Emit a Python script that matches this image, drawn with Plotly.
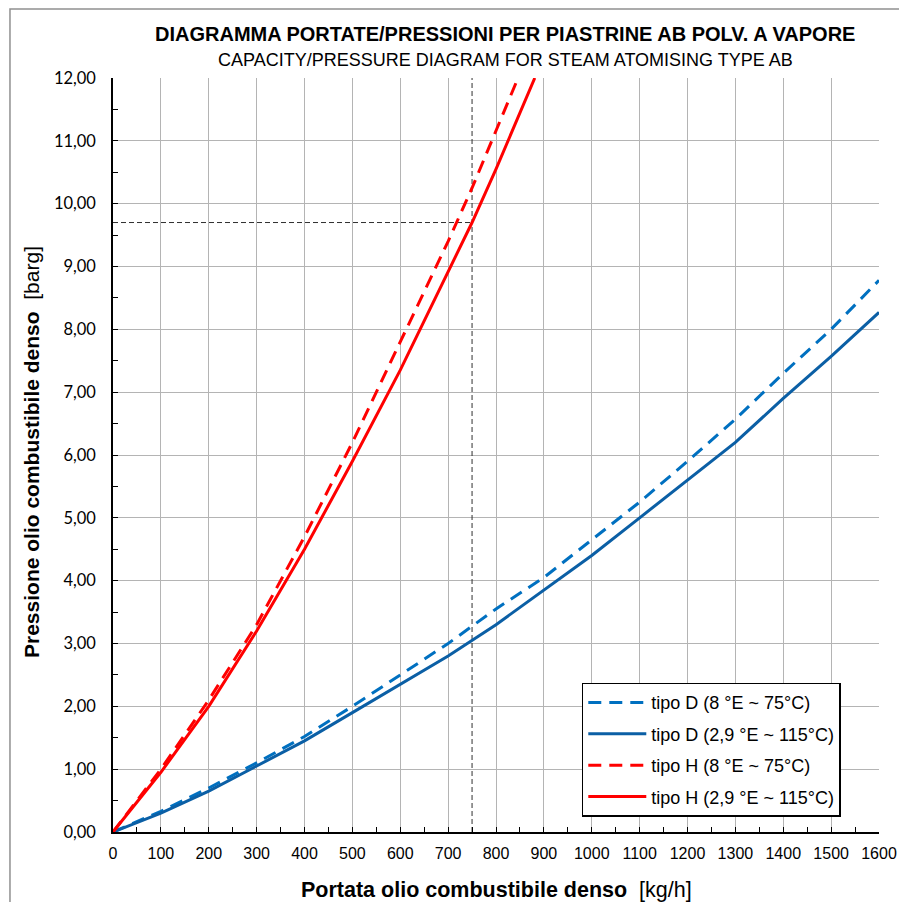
import plotly.graph_objects as go

# Portata [kg/h]
flow_D = [0, 100, 200, 300, 400, 500, 600, 700, 800, 900, 1000, 1100, 1200, 1300, 1400, 1500, 1600]
# Pressione [barg]
p_D_8E = [0, 0.33, 0.70, 1.10, 1.52, 2.00, 2.50, 3.00, 3.55, 4.05, 4.65, 5.25, 5.90, 6.57, 7.30, 8.00, 8.78]
p_D_29E = [0, 0.30, 0.65, 1.05, 1.45, 1.90, 2.35, 2.80, 3.30, 3.85, 4.40, 5.00, 5.60, 6.20, 6.90, 7.57, 8.27]

flow_H_8E = [0, 100, 200, 300, 400, 500, 600, 700, 750, 800, 846]
p_H_8E = [0, 1.00, 2.10, 3.30, 4.70, 6.20, 7.80, 9.40, 10.25, 11.15, 12.00]
flow_H_29E = [0, 100, 200, 300, 400, 500, 600, 700, 750, 800, 881]
p_H_29E = [0, 0.95, 2.00, 3.20, 4.50, 5.90, 7.35, 8.90, 9.70, 10.55, 12.00]

# reference reading
ref_flow = 750
ref_pressure = 9.70

x_ticks = list(range(0, 1601, 100))
y_ticks = list(range(0, 13, 1))

blue_dash = "#0070C0"
blue_solid = "#0B5FA5"
red = "#FF0000"
dash_style = "13px,8px"

fig = go.Figure()

# reference lines
fig.add_trace(go.Scatter(x=[ref_flow, ref_flow], y=[0, 12], mode="lines",
                         line=dict(color="#303030", width=1, dash="5px,3px"),
                         showlegend=False, hoverinfo="skip"))
fig.add_trace(go.Scatter(x=[0, ref_flow], y=[ref_pressure, ref_pressure], mode="lines",
                         line=dict(color="#303030", width=1, dash="5px,3px"),
                         showlegend=False, hoverinfo="skip"))

fig.add_trace(go.Scatter(x=flow_D, y=p_D_8E, mode="lines", name="tipo D (8 °E ~ 75°C)",
                         line=dict(color=blue_dash, width=3, dash=dash_style), legendgroup="a"))
fig.add_trace(go.Scatter(x=flow_D, y=p_D_29E, mode="lines", name="tipo D (2,9 °E ~ 115°C)",
                         line=dict(color=blue_solid, width=3), legendgroup="b"))
fig.add_trace(go.Scatter(x=flow_H_8E, y=p_H_8E, mode="lines", name="tipo H (8 °E ~ 75°C)",
                         line=dict(color=red, width=3, dash=dash_style), legendgroup="c"))
fig.add_trace(go.Scatter(x=flow_H_29E, y=p_H_29E, mode="lines", name="tipo H (2,9 °E ~ 115°C)",
                         line=dict(color=red, width=3), legendgroup="d"))

fig.update_layout(
    width=899, height=902,
    margin=dict(l=113, r=20, t=78, b=70, autoexpand=False),
    paper_bgcolor="white", plot_bgcolor="white",
    separators=",.",
    font=dict(family="Liberation Sans, Arial", color="black"),
    showlegend=True,
    legend=dict(x=0.612, y=0.198, xanchor="left", yanchor="top",
                bordercolor="black", borderwidth=1.5, bgcolor="white",
                font=dict(size=18, family="Liberation Sans, Arial"),
                itemwidth=58,
                tracegroupgap=5, traceorder="grouped"),
    xaxis=dict(range=[0, 1600], tickvals=x_ticks, ticktext=[str(v) for v in x_ticks],
               automargin=False,
               showgrid=True, gridcolor="#b4b4b4", gridwidth=1,
               showline=True, linecolor="black", linewidth=1.5,
               ticks="inside", ticklen=5, tickcolor="black",
               minor=dict(dtick=50, ticks="inside", ticklen=5, tickcolor="black", showgrid=False),
               tickfont=dict(size=16, family="Liberation Sans Narrow, Arial Narrow, Liberation Sans"),
               ticklabelstandoff=6,
               zeroline=False, fixedrange=True),
    yaxis=dict(range=[0, 12], tickvals=y_ticks, tickformat=".2f",
               automargin=False,
               showgrid=True, gridcolor="#b4b4b4", gridwidth=1,
               showline=True, linecolor="black", linewidth=1.5,
               ticks="inside", ticklen=5, tickcolor="black",
               minor=dict(dtick=0.5, ticks="inside", ticklen=5, tickcolor="black", showgrid=False),
               tickfont=dict(size=16.5, family="Lato, Noto Sans"),
               ticklabelstandoff=12,
               zeroline=False, fixedrange=True),
)

fig.add_annotation(text="<b>DIAGRAMMA PORTATE/PRESSIONI PER PIASTRINE AB POLV. A VAPORE</b>",
                   xref="paper", yref="paper", x=0.512, y=1.0, yshift=44,
                   xanchor="center", yanchor="middle", showarrow=False,
                   font=dict(size=20, family="Liberation Sans, Arial"))
fig.add_annotation(text="CAPACITY/PRESSURE DIAGRAM FOR STEAM ATOMISING TYPE AB",
                   xref="paper", yref="paper", x=0.512, y=1.0, yshift=18,
                   xanchor="center", yanchor="middle", showarrow=False,
                   font=dict(size=18, family="Liberation Sans, Arial"))
fig.add_annotation(text="<b>Pressione olio combustibile denso</b>\u00a0\u00a0[barg]",
                   xref="paper", yref="paper", x=0, xshift=-81, y=0.504,
                   xanchor="center", yanchor="middle", textangle=-90, showarrow=False,
                   font=dict(size=21, family="Liberation Sans, Arial"))
fig.add_annotation(text="<b>Portata olio combustibile denso</b>\u00a0\u00a0[kg/h]",
                   xref="paper", yref="paper", x=0.5, y=0, yshift=-58,
                   xanchor="center", yanchor="middle", showarrow=False,
                   font=dict(size=21.5, family="Liberation Sans, Arial"))

# chart-area frame
fig.add_shape(type="rect", xref="paper", yref="paper",
              x0=-0.1345, x1=1.2, y0=-0.3, y1=1.0915,
              line=dict(color="#909090", width=1.5), layer="below")

fig.write_html("out.html", config={"displayModeBar": False},
               post_script="document.body.style.margin='0';document.body.style.padding='0';")
